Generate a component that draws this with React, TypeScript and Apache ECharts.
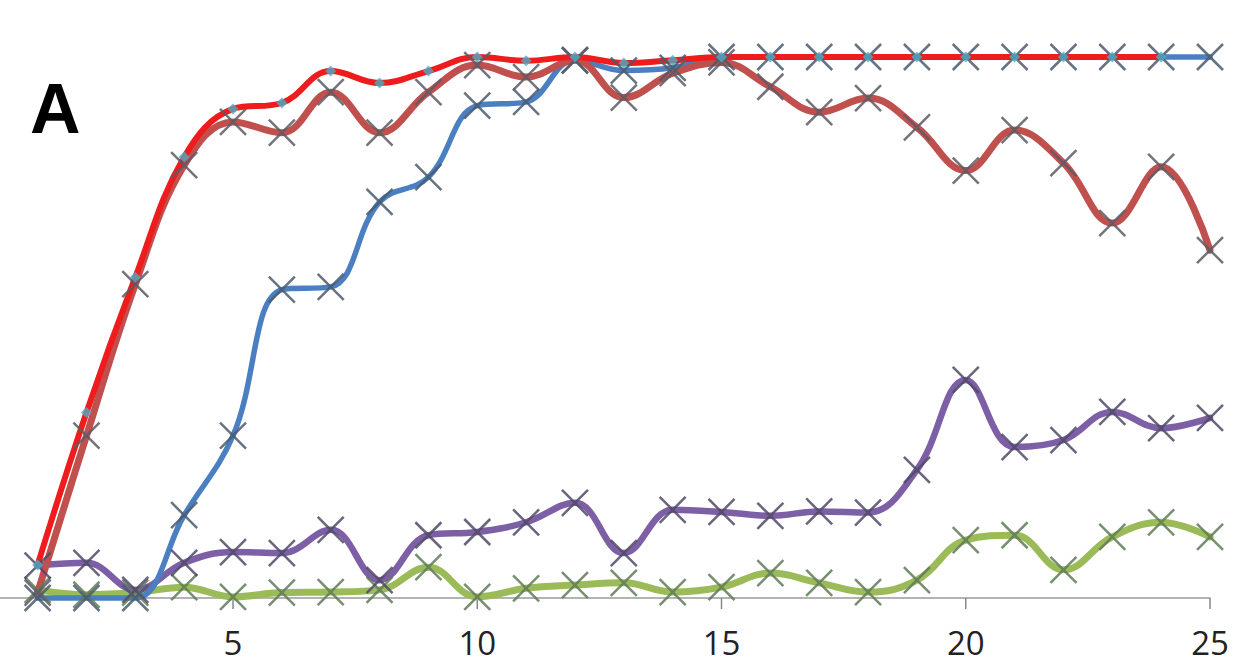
import React, { useEffect, useRef } from "react";
import * as echarts from "echarts";

const days = [1, 2, 3, 4, 5, 6, 7, 8, 9, 10, 11, 12, 13, 14, 15, 16, 17, 18, 19, 20, 21, 22, 23, 24, 25];
const redValues = [6.1, 34.3, 59.3, 81.5, 90.4, 91.5, 97.4, 95.2, 97.4, 100, 99.3, 100, 98.9, 99.4, 100, 100, 100, 100, 100, 100, 100, 100, 100, 100];
const brownValues = [1, 30, 58, 80, 88, 86, 93.5, 86, 93.5, 98.5, 96.3, 99.4, 92.5, 97, 99, 94.5, 89.8, 92.4, 87, 79, 86.5, 80.4, 69.3, 79.7, 64.3];
const blueValues = [0, 0, 0, 15.3, 30, 57, 57.5, 73.2, 77.8, 91, 91.7, 99.4, 97.5, 98, 100, 100, 100, 100, 100, 100, 100, 100, 100, 100, 100];
const purpleValues = [6, 6.5, 1.5, 6.5, 8.5, 8.3, 12.6, 3.3, 11.6, 12.2, 14, 17.6, 8.3, 16.3, 15.9, 15.2, 16, 15.8, 23.7, 40.3, 27.9, 29.2, 34.4, 31.4, 33.3];
const greenValues = [1.5, 0.6, 1, 2, 0.2, 1, 1.1, 1.5, 5.7, 0.2, 1.8, 2.4, 2.8, 1.1, 2, 4.6, 2.8, 1.1, 3.3, 10.7, 11.6, 5.2, 11.3, 14, 11.3];
const xTicks = [5, 10, 15, 20, 25];
const panelLabel = "A";

const pairs = (vals: number[]) => vals.map((v, i) => [days[i], v]);

const X_SYMBOL = "path://M0,0L10,10M10,0L0,10";

export default function App() {
  const ref = useRef<HTMLDivElement>(null);
  useEffect(() => {
    if (!ref.current) return;
    const chart = echarts.init(ref.current, null, { renderer: "svg" });
    const lineSeries = (name: string, vals: number[], color: string, width: number) => ({
      type: "line",
      name,
      data: pairs(vals),
      smooth: 0.4,
      showSymbol: false,
      symbol: "none",
      clip: false,
      silent: true,
      z: 2,
      lineStyle: { color, width, cap: "round", join: "round" },
      itemStyle: { color },
    });
    const xMarks = (name: string, vals: number[], color: string) => ({
      type: "scatter",
      name,
      data: pairs(vals),
      symbol: X_SYMBOL,
      symbolSize: 26,
      clip: false,
      silent: true,
      z: 3,
      itemStyle: { color: "none", borderColor: color, borderWidth: 2.5, opacity: 0.85 },
    });
    const labelGraphic = {
      type: "text",
      id: "panel",
      left: 30,
      top: 74,
      style: {
        text: panelLabel,
        fontSize: 70,
        fontWeight: "bold",
        fontFamily: "Liberation Sans",
        fill: "#000",
      },
    };
    chart.setOption({
      animation: false,
      backgroundColor: "#ffffff",
      grid: { left: 0, right: 26, top: 57, bottom: 69, containLabel: false },
      xAxis: {
        type: "value",
        min: 0.23,
        max: 25,
        splitLine: { show: false },
        axisLine: { show: true, lineStyle: { color: "#9a9a9a", width: 1.5 } },
        axisTick: { show: false },
        axisLabel: {
          show: true,
          customValues: xTicks,
          margin: 28,
          fontSize: 33,
          color: "#222",
          fontFamily: "Open Sans",
        },
      },
      yAxis: {
        type: "value",
        min: 0,
        max: 100,
        show: false,
        splitLine: { show: false },
      },
      graphic: [labelGraphic],
      series: [
        lineSeries("green", greenValues, "#9bbb59", 7),
        lineSeries("purple", purpleValues, "#7d5fa6", 6.5),
        lineSeries("blue", blueValues, "#4a7fc1", 5.5),
        lineSeries("brown", brownValues, "#c0504d", 7),
        lineSeries("red", redValues, "#ee1c1c", 6),
        xMarks("green", greenValues, "#5f7a58"),
        xMarks("purple", purpleValues, "#4f4a66"),
        xMarks("blue", blueValues, "#4a5a6c"),
        xMarks("brown", brownValues, "#5a5a66"),
        {
          type: "scatter",
          name: "red",
          data: pairs(redValues),
          symbol: "diamond",
          symbolSize: 11,
          clip: false,
          silent: true,
          z: 4,
          itemStyle: { color: "#4bacc6" },
        },
      ],
    });
    const y0 = chart.convertToPixel({ yAxisIndex: 0 }, 0) as number;
    const tickGraphics = xTicks.map((t, i) => {
      const px = chart.convertToPixel({ xAxisIndex: 0 }, t) as number;
      return {
        type: "line",
        id: "tick" + i,
        z: 1,
        shape: { x1: px, y1: y0, x2: px, y2: y0 + 11 },
        style: { stroke: "#888888", lineWidth: 1.5 },
        silent: true,
      };
    });
    chart.setOption({ graphic: [labelGraphic, ...tickGraphics] });
    return () => chart.dispose();
  }, []);
  return (
    <div
      ref={ref}
      style={{ position: "fixed", left: 0, top: 0, width: 1236, height: 667, background: "#fff" }}
    />
  );
}
